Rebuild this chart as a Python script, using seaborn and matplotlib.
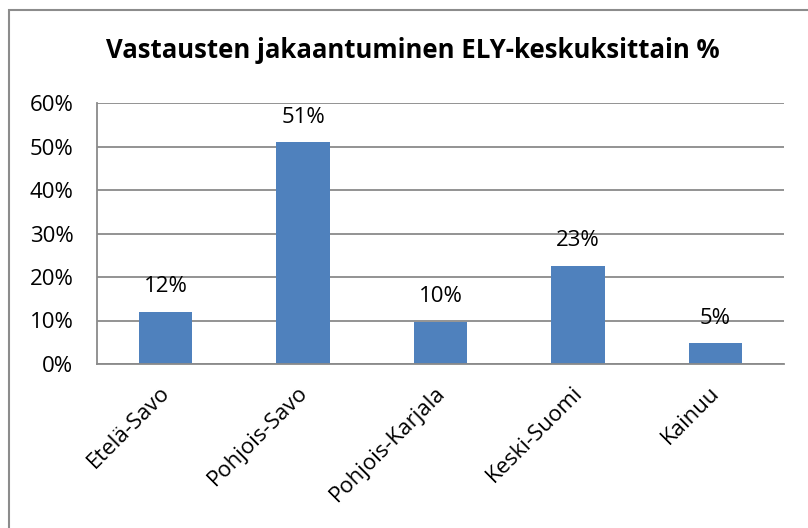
import matplotlib
matplotlib.use("Agg")
import matplotlib.pyplot as plt
import matplotlib.transforms as mtransforms
import seaborn as sns
import pandas as pd
from matplotlib.patches import Rectangle

categories = ["Etelä-Savo", "Pohjois-Savo", "Pohjois-Karjala", "Keski-Suomi", "Kainuu"]
values = [12, 51, 10, 23, 5]
heights = [12.0, 51.0, 9.7, 22.6, 4.8]
title = "Vastausten jakaantuminen ELY-keskuksittain %"

sns.set_theme(style="white")
plt.rcParams['font.family'] = ['Open Sans', 'DejaVu Sans']
plt.rcParams['text.color'] = 'black'
plt.rcParams['xtick.color'] = 'black'
plt.rcParams['ytick.color'] = 'black'

df = pd.DataFrame({"cat": categories, "val": heights})

fig = plt.figure(figsize=(8.08, 5.28), dpi=100)
fig.patches.append(Rectangle((9/808, -0.1), 1.2, 1 - 10/528 + 0.1, transform=fig.transFigure,
                             fill=False, edgecolor="#8c8c8c", linewidth=1.5))
ax = fig.add_axes([97/808, 1 - 364/528, (784 - 97)/808, (364 - 103)/528])

sns.barplot(data=df, x="cat", y="val", color="#4F81BD", saturation=1, width=0.39,
            linewidth=0, ax=ax)

fs = 16
ax.set_ylim(0, 60)
ax.set_yticks(range(0, 61, 10))
ax.set_yticklabels([f"{t}%" for t in range(0, 61, 10)], fontsize=fs)
ax.yaxis.grid(True, color="#8a8a8a", linewidth=1.3)
ax.set_axisbelow(True)
ax.set_xlabel("")
ax.set_ylabel("")
ax.tick_params(axis="y", length=0, pad=17)
ax.tick_params(axis="x", length=0, pad=13)
ax.set_xticks(range(len(categories)))
ax.set_xticklabels(categories, rotation=45, ha="right", rotation_mode="anchor", fontsize=fs)
shift = mtransforms.ScaledTranslation(-6/100, 0, fig.dpi_scale_trans)
for lbl in ax.get_xticklabels():
    lbl.set_transform(lbl.get_transform() + shift)
for s in ["top", "right"]:
    ax.spines[s].set_visible(False)
for s in ["left", "bottom"]:
    ax.spines[s].set_color("#8a8a8a")
    ax.spines[s].set_linewidth(1.3)

for i, (v, h) in enumerate(zip(values, heights)):
    ax.text(i, h + 3.3, f"{v}%", ha="center", va="bottom", fontsize=fs)

fig.text(413/808, 1 - 50/528, title, ha="center", va="center", fontsize=18.5, fontweight="bold")

fig.savefig("out.png", dpi=100)
